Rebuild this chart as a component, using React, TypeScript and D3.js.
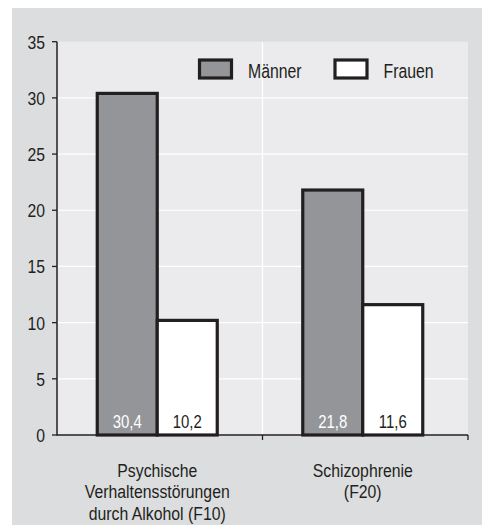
import React from "react";
import * as d3 from "d3";

// Diagnoses (multi-line category labels) and rates per series
const categories = ["F10", "F20"];
const categoryLabels = [
  ["Psychische", "Verhaltensstörungen", "durch Alkohol (F10)"],
  ["Schizophrenie", "(F20)"],
];
const seriesNames = ["Männer", "Frauen"];
const maennerValues = [30.4, 21.8];
const frauenValues = [10.2, 11.6];
const valueLabels = [
  ["30,4", "10,2"],
  ["21,8", "11,6"],
];
const yTicks = [0, 5, 10, 15, 20, 25, 30, 35];

const W = 482;
const H = 525;
const FONT = "'Liberation Sans', Arial, sans-serif";
const INK = "#231f20";
const BG_OUTER = "#dcdddf";
const BG_PLOT = "#ebebed";
const GRAY_BAR = "#939598";

// Condensed text: a regular sans squeezed horizontally around its anchor point
function NarrowText({
  x,
  y,
  children,
  anchor = "start",
  size = 18,
  fill = INK,
  squeeze = 0.85,
}: {
  x: number;
  y: number;
  children: React.ReactNode;
  anchor?: "start" | "middle" | "end";
  size?: number;
  fill?: string;
  squeeze?: number;
}) {
  return (
    <g transform={`translate(${x},${y}) scale(${squeeze},1)`}>
      <text x={0} y={0} textAnchor={anchor} fontSize={size} fill={fill} fontFamily={FONT}>
        {children}
      </text>
    </g>
  );
}

export default function App() {
  const left = 57;
  const right = 468;
  const top = 41.7;
  const bottom = 435;

  const y = d3.scaleLinear().domain([0, 35]).range([bottom, top]);
  const x0 = d3.scaleBand<string>().domain(categories).range([left, right]).padding(0);
  const groupWidth = 120;
  const x1 = d3.scaleBand<string>().domain(seriesNames).range([0, groupWidth]).padding(0);
  const groupOffset = (x0.bandwidth() - groupWidth) / 2 - 2.5;

  const seriesValues = [maennerValues, frauenValues];
  const fills = [GRAY_BAR, "#ffffff"];
  const labelColors = ["#ffffff", INK];

  return (
    <div style={{ position: "absolute", left: 0, top: 0, width: W, height: H }}>
      <svg width={W} height={H} style={{ display: "block" }}>
        <rect x={12} y={8} width={W - 12} height={H - 8} fill={BG_OUTER} />
        <rect x={left} y={top} width={right - left} height={bottom - top} fill={BG_PLOT} />

        {/* horizontal gridlines */}
        {yTicks
          .filter((t) => t > 0 && t < 35)
          .map((t) => (
            <line key={"g" + t} x1={left} x2={right} y1={y(t)} y2={y(t)} stroke="#ffffff" strokeWidth={1.2} />
          ))}
        {/* category separator */}
        <line
          x1={x0(categories[1])!}
          x2={x0(categories[1])!}
          y1={top}
          y2={bottom}
          stroke="#ffffff"
          strokeWidth={1.2}
        />

        {/* bars */}
        {categories.map((c, ci) =>
          seriesNames.map((s, si) => {
            const v = seriesValues[si][ci];
            const bx = x0(c)! + groupOffset + x1(s)!;
            const by = y(v);
            return (
              <g key={c + s}>
                <rect
                  x={bx}
                  y={by}
                  width={x1.bandwidth()}
                  height={bottom - by}
                  fill={fills[si]}
                  stroke={INK}
                  strokeWidth={3.2}
                />
                <NarrowText
                  x={bx + x1.bandwidth() / 2}
                  y={427.5}
                  anchor="middle"
                  size={18}
                  squeeze={0.83}
                  fill={labelColors[si]}
                >
                  {valueLabels[ci][si]}
                </NarrowText>
              </g>
            );
          })
        )}

        {/* y axis */}
        <line x1={left} x2={left} y1={top} y2={bottom + 0.5} stroke={INK} strokeWidth={1.5} />
        {yTicks.map((t) => (
          <g key={"t" + t}>
            <line x1={left - 5} x2={left} y1={y(t)} y2={y(t)} stroke={INK} strokeWidth={1.3} />
            <NarrowText x={45} y={y(t) + 7} anchor="end" size={19} squeeze={0.83}>
              {t}
            </NarrowText>
          </g>
        ))}

        {/* x axis */}
        <line x1={left} x2={right} y1={bottom} y2={bottom} stroke={INK} strokeWidth={1.5} />
        {[x0(categories[1])!, right].map((tx, i) => (
          <line key={"xt" + i} x1={tx} x2={tx} y1={bottom} y2={bottom + 5} stroke={INK} strokeWidth={1.3} />
        ))}
        {categories.map((c, ci) =>
          categoryLabels[ci].map((line, li) => (
            <NarrowText
              key={"cl" + c + li}
              x={x0(c)! + groupOffset + groupWidth / 2}
              y={476.7 + li * 21.6}
              anchor="middle"
              size={18.6}
              squeeze={0.85}
            >
              {line}
            </NarrowText>
          ))
        )}

        {/* legend */}
        {seriesNames.map((s, si) => {
          const lx = [199.5, 335][si];
          return (
            <g key={"lg" + s}>
              <rect x={lx} y={60} width={32} height={18} fill={fills[si]} stroke={INK} strokeWidth={3.2} />
              <NarrowText x={lx + 48.5} y={77.5} size={19.5} squeeze={0.81}>
                {s}
              </NarrowText>
            </g>
          );
        })}
      </svg>
    </div>
  );
}
